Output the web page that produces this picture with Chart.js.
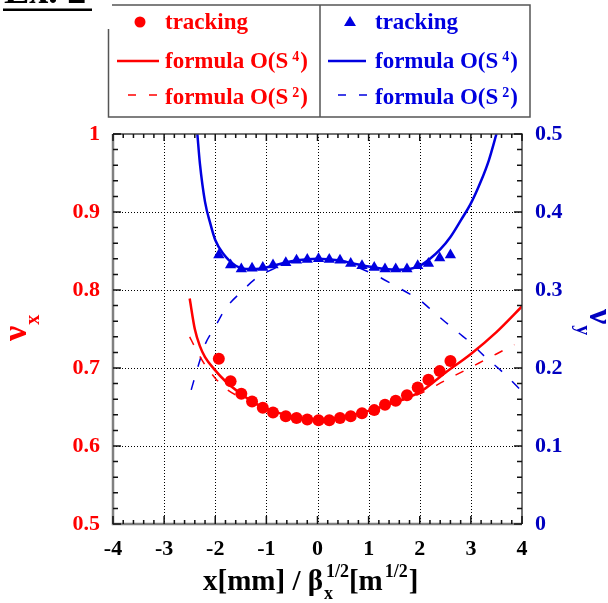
<!DOCTYPE html>
<html>
<head>
<meta charset="utf-8">
<script src="https://cdn.jsdelivr.net/npm/chart.js@4.4.0/dist/chart.umd.min.js"></script>
<style>
  html, body { margin: 0; padding: 0; background: #fff; }
  #wrap { width: 608px; height: 603px; }
</style>
</head>
<body>
<div id="wrap"><canvas id="myChart" width="608" height="603"></canvas></div>
<script>
// tracking (same amplitudes for both planes)
const xTrack = [-1.93, -1.70, -1.49, -1.28, -1.07, -0.87, -0.62, -0.41, -0.20, 0.02, 0.23,
                0.44, 0.65, 0.87, 1.11, 1.32, 1.53, 1.75, 1.96, 2.17, 2.39, 2.60];
const nuxTrack = [0.712, 0.683, 0.667, 0.657, 0.649, 0.643, 0.638, 0.636, 0.634, 0.633, 0.633,
                  0.636, 0.638, 0.642, 0.646, 0.653, 0.658, 0.665, 0.675, 0.685, 0.696, 0.709];
const nuyTrack = [0.345, 0.332, 0.327, 0.328, 0.329, 0.332, 0.335, 0.338, 0.339, 0.340, 0.339,
                  0.338, 0.334, 0.331, 0.329, 0.327, 0.327, 0.327, 0.331, 0.334, 0.341, 0.345];

// nu_x formula O(S^4)
const xNux4 = [-2.5, -2.4, -2.3, -2.2, -2.0, -1.8, -1.5, -1.2, -1.0, -0.5, 0, 0.5, 1.0, 1.5, 2.0, 2.5, 3.0, 3.5, 4.0];
const nux4 = [0.789, 0.750, 0.728, 0.714, 0.697, 0.683, 0.667, 0.654, 0.648, 0.638, 0.634, 0.637, 0.645, 0.656, 0.669, 0.694, 0.718, 0.746, 0.779];
// nu_x formula O(S^2)
const xNux2 = [-2.5, -2.4, -2.2, -2.0, -1.8, -1.5, -1.0, -0.5, 0, 0.5, 1.0, 1.5, 2.0, 2.5, 3.0, 3.5, 3.85];
const nux2 = [0.740, 0.727, 0.704, 0.687, 0.674, 0.662, 0.647, 0.637, 0.634, 0.637, 0.645, 0.655, 0.667, 0.684, 0.701, 0.718, 0.730];
// nu_y formula O(S^4)
const xNuy4 = [-2.35, -2.3, -2.2, -2.1, -2.0, -1.85, -1.6, -1.4, -1.2, -1.0, -0.7, -0.4, 0, 0.4, 0.7, 1.0,
               1.3, 1.6, 1.8, 2.0, 2.2, 2.4, 2.6, 2.8, 3.0, 3.2, 3.35, 3.5];
const nuy4 = [0.5, 0.462, 0.413, 0.386, 0.364, 0.347, 0.331, 0.327, 0.327, 0.329, 0.334, 0.338, 0.340, 0.338, 0.334, 0.330,
              0.327, 0.326, 0.327, 0.331, 0.340, 0.352, 0.368, 0.389, 0.411, 0.440, 0.466, 0.5];
// nu_y formula O(S^2)
const xNuy2 = [-2.47, -2.4, -2.3, -2.2, -2.0, -1.8, -1.5, -1.2, -0.9, -0.5, 0, 0.5, 0.9, 1.2, 1.5, 1.8,
               2.0, 2.2, 2.5, 2.8, 3.0, 3.3, 3.6, 4.0];
const nuy2 = [0.172, 0.188, 0.210, 0.230, 0.253, 0.276, 0.297, 0.315, 0.326, 0.336, 0.340, 0.336, 0.326, 0.317, 0.306, 0.295,
              0.287, 0.276, 0.259, 0.243, 0.232, 0.213, 0.196, 0.170];

const xTicks = [-4, -3, -2, -1, 0, 1, 2, 3, 4];
const nuxTicks = [0.5, 0.6, 0.7, 0.8, 0.9, 1];
const nuyTicks = [0, 0.1, 0.2, 0.3, 0.4, 0.5];

const RED = '#ff0000';
const BLUE = '#0000e0';
const BLUE_TXT = '#0000c0';
const SERIF = '"Liberation Serif", "Times New Roman", serif';

function pts(xs, ys) {
  return xs.map((x, i) => ({ x: x, y: ys[i] }));
}

// plain labels: 1 instead of 1.0
const plain = v => String(+Number(v).toFixed(2));

// draw a run of text pieces: {t, size, dy, gap}
function richText(ctx, x, y, parts, color) {
  ctx.fillStyle = color;
  ctx.textAlign = 'left';
  ctx.textBaseline = 'alphabetic';
  parts.forEach(p => {
    x += p.gap || 0;
    ctx.font = 'bold ' + p.size + 'px ' + SERIF;
    ctx.fillText(p.t, x, y + (p.dy || 0));
    x += ctx.measureText(p.t).width;
  });
  return x;
}

function formula(ctx, x, y, n, color) {
  richText(ctx, x, y, [
    { t: 'formula O(S', size: 23 },
    { t: n, size: 14, dy: -7, gap: 4 },
    { t: ')', size: 23, gap: 1 }
  ], color);
}

const decor = {
  id: 'decor',
  beforeDraw(chart) {
    const ctx = chart.ctx;
    ctx.save();
    ctx.fillStyle = '#fff';
    ctx.fillRect(0, 0, chart.width, chart.height);
    ctx.restore();
  },
  beforeDatasetsDraw(chart) {
    // dotted grid at major ticks
    const ctx = chart.ctx, ca = chart.chartArea;
    const sx = chart.scales.x, sy = chart.scales.y;
    ctx.save();
    ctx.strokeStyle = '#000';
    ctx.lineWidth = 1;
    ctx.setLineDash([1, 2]);
    xTicks.slice(1, -1).forEach(v => {
      const px = Math.round(sx.getPixelForValue(v)) + 0.5;
      ctx.beginPath(); ctx.moveTo(px, ca.top); ctx.lineTo(px, ca.bottom); ctx.stroke();
    });
    nuxTicks.slice(1, -1).forEach(v => {
      const py = Math.round(sy.getPixelForValue(v)) + 0.5;
      ctx.beginPath(); ctx.moveTo(ca.left, py); ctx.lineTo(ca.right, py); ctx.stroke();
    });
    ctx.restore();
  },
  afterDatasetsDraw(chart) {
    const ctx = chart.ctx, ca = chart.chartArea;
    const sx = chart.scales.x, sy = chart.scales.y, sy2 = chart.scales.y2;
    ctx.save();
    // frame
    ctx.lineWidth = 2.5;
    ctx.strokeStyle = '#808080';
    ctx.beginPath();
    ctx.moveTo(ca.left, ca.top); ctx.lineTo(ca.left, ca.bottom); ctx.lineTo(ca.right, ca.bottom);
    ctx.stroke();
    ctx.lineWidth = 1.5;
    ctx.strokeStyle = '#444';
    ctx.beginPath();
    ctx.moveTo(ca.left, ca.top); ctx.lineTo(ca.right, ca.top); ctx.lineTo(ca.right, ca.bottom);
    ctx.stroke();

    // ticks (major + minor)
    ctx.lineWidth = 1.5;
    ctx.strokeStyle = '#111';
    for (let i = 0; i <= 40; i++) {
      const v = -4 + i * 0.2;
      const px = sx.getPixelForValue(v);
      const big = i % 5 === 0;
      ctx.beginPath();
      ctx.moveTo(px, ca.bottom); ctx.lineTo(px, ca.bottom - (big ? 8 : 4));
      ctx.moveTo(px, ca.top); ctx.lineTo(px, ca.top + (big ? 7 : 4));
      ctx.stroke();
    }
    for (let i = 0; i <= 25; i++) {
      const big = i % 5 === 0;
      const pl = sy.getPixelForValue(0.5 + i * 0.02);
      const pr = sy2.getPixelForValue(i * 0.02);
      ctx.beginPath();
      ctx.moveTo(ca.left, pl); ctx.lineTo(ca.left + (big ? 8 : 5), pl);
      ctx.moveTo(ca.right, pr); ctx.lineTo(ca.right - (big ? 8 : 5), pr);
      ctx.stroke();
    }
    ctx.restore();
  },
  afterDraw(chart) {
    const ctx = chart.ctx;
    ctx.save();

    // header label, cut by the top edge
    ctx.fillStyle = '#000';
    ctx.font = 'bold 38px ' + SERIF;
    ctx.fillText('Ex. 2', 4, 3);
    ctx.fillRect(3, 8.5, 89, 2.5);

    // legend box
    ctx.strokeStyle = '#555';
    ctx.lineWidth = 1.5;
    ctx.beginPath();
    ctx.moveTo(112, 5); ctx.lineTo(530, 5); ctx.lineTo(530, 117); ctx.lineTo(108.5, 117); ctx.lineTo(108.5, 29);
    ctx.moveTo(320, 5); ctx.lineTo(320, 117);
    ctx.stroke();

    // left column (nu_x)
    ctx.fillStyle = RED;
    ctx.beginPath(); ctx.arc(140, 22, 5.5, 0, Math.PI * 2); ctx.fill();
    richText(ctx, 165, 29, [{ t: 'tracking', size: 23 }], RED);
    ctx.strokeStyle = RED; ctx.lineWidth = 2.5;
    ctx.beginPath(); ctx.moveTo(117, 61); ctx.lineTo(159, 61); ctx.stroke();
    formula(ctx, 165, 68, '4', RED);
    ctx.lineWidth = 1.5;
    ctx.beginPath(); ctx.moveTo(128, 95); ctx.lineTo(136, 95); ctx.moveTo(149, 95); ctx.lineTo(157, 95); ctx.stroke();
    formula(ctx, 165, 104, '2', RED);

    // right column (nu_y)
    ctx.fillStyle = BLUE;
    ctx.beginPath(); ctx.moveTo(350, 16); ctx.lineTo(356, 26); ctx.lineTo(344, 26); ctx.closePath(); ctx.fill();
    richText(ctx, 375, 29, [{ t: 'tracking', size: 23 }], BLUE);
    ctx.strokeStyle = BLUE; ctx.lineWidth = 2.5;
    ctx.beginPath(); ctx.moveTo(328, 61); ctx.lineTo(366, 61); ctx.stroke();
    formula(ctx, 375, 68, '4', BLUE);
    ctx.lineWidth = 1.5;
    ctx.beginPath(); ctx.moveTo(338, 95); ctx.lineTo(346, 95); ctx.moveTo(359, 95); ctx.lineTo(367, 95); ctx.stroke();
    formula(ctx, 375, 104, '2', BLUE);

    // x axis title
    let x = richText(ctx, 203, 590, [{ t: 'x[mm] / \u03b2', size: 29 }], '#000');
    richText(ctx, x + 1, 590, [{ t: 'x', size: 18, dy: 9 }], '#000');
    x = richText(ctx, x + 3, 590, [{ t: '1/2', size: 18, dy: -13 }], '#000');
    x = richText(ctx, x, 590, [{ t: '[m', size: 29 }], '#000');
    x = richText(ctx, x + 2, 590, [{ t: '1/2', size: 18, dy: -13 }], '#000');
    richText(ctx, x + 1, 590, [{ t: ']', size: 29 }], '#000');

    // left title nu_x
    ctx.save();
    ctx.translate(26, 341);
    ctx.rotate(-Math.PI / 2);
    richText(ctx, 0, 0, [{ t: '\u03bd', size: 34 }, { t: 'x', size: 20, dy: 13, gap: 1 }], RED);
    ctx.restore();

    // right title nu_y
    ctx.save();
    ctx.translate(590, 309);
    ctx.rotate(Math.PI / 2);
    richText(ctx, 0, 0, [{ t: '\u03bd', size: 34 }, { t: 'y', size: 20, dy: 13, gap: 1 }], BLUE_TXT);
    ctx.restore();

    ctx.restore();
  }
};

const tickFont = { family: SERIF, size: 22, weight: 'bold' };

const ctx = document.getElementById('myChart').getContext('2d');
const myChart = new Chart(ctx, {
  type: 'scatter',
  data: {
    datasets: [
      { label: 'tracking x', data: pts(xTrack, nuxTrack), yAxisID: 'y', order: 1,
        pointStyle: 'circle', pointRadius: 6, backgroundColor: RED, borderColor: RED, borderWidth: 0 },
      { label: 'tracking y', data: pts(xTrack, nuyTrack), yAxisID: 'y2', order: 1,
        pointStyle: 'triangle', pointRadius: 6.5, backgroundColor: BLUE, borderColor: BLUE, borderWidth: 0 },
      { label: 'O(S4) x', data: pts(xNux4, nux4), yAxisID: 'y', order: 2, showLine: true,
        pointRadius: 0, borderColor: RED, borderWidth: 2.5, cubicInterpolationMode: 'monotone' },
      { label: 'O(S2) x', data: pts(xNux2, nux2), yAxisID: 'y', order: 3, showLine: true,
        pointRadius: 0, borderColor: RED, borderWidth: 1.5, borderDash: [9, 13], cubicInterpolationMode: 'monotone' },
      { label: 'O(S4) y', data: pts(xNuy4, nuy4), yAxisID: 'y2', order: 2, showLine: true,
        pointRadius: 0, borderColor: BLUE, borderWidth: 2.5, cubicInterpolationMode: 'monotone' },
      { label: 'O(S2) y', data: pts(xNuy2, nuy2), yAxisID: 'y2', order: 3, showLine: true,
        pointRadius: 0, borderColor: BLUE, borderWidth: 1.5, borderDash: [10, 14], cubicInterpolationMode: 'monotone' }
    ]
  },
  options: {
    responsive: false,
    animation: false,
    devicePixelRatio: 1,
    layout: { padding: { top: 134, left: 0, right: 0, bottom: 0 } },
    plugins: { legend: { display: false }, tooltip: { enabled: false } },
    scales: {
      x: {
        type: 'linear', min: -4, max: 4,
        afterBuildTicks: s => { s.ticks = xTicks.map(v => ({ value: v })); },
        afterFit: s => { s.height = 79; },
        grid: { display: false, drawTicks: false },
        border: { display: false },
        ticks: { color: '#000', font: tickFont, padding: 12, maxRotation: 0, autoSkip: false, callback: plain }
      },
      y: {
        type: 'linear', position: 'left', min: 0.5, max: 1,
        afterBuildTicks: s => { s.ticks = nuxTicks.map(v => ({ value: v })); },
        afterFit: s => { s.width = 113; },
        grid: { display: false, drawTicks: false },
        border: { display: false },
        ticks: { color: RED, font: tickFont, padding: 13, autoSkip: false, callback: plain }
      },
      y2: {
        type: 'linear', position: 'right', min: 0, max: 0.5,
        afterBuildTicks: s => { s.ticks = nuyTicks.map(v => ({ value: v })); },
        afterFit: s => { s.width = 86; },
        grid: { display: false, drawTicks: false },
        border: { display: false },
        ticks: { color: BLUE_TXT, font: tickFont, padding: 13, autoSkip: false, callback: plain }
      }
    }
  },
  plugins: [decor]
});
</script>
</body>
</html>
